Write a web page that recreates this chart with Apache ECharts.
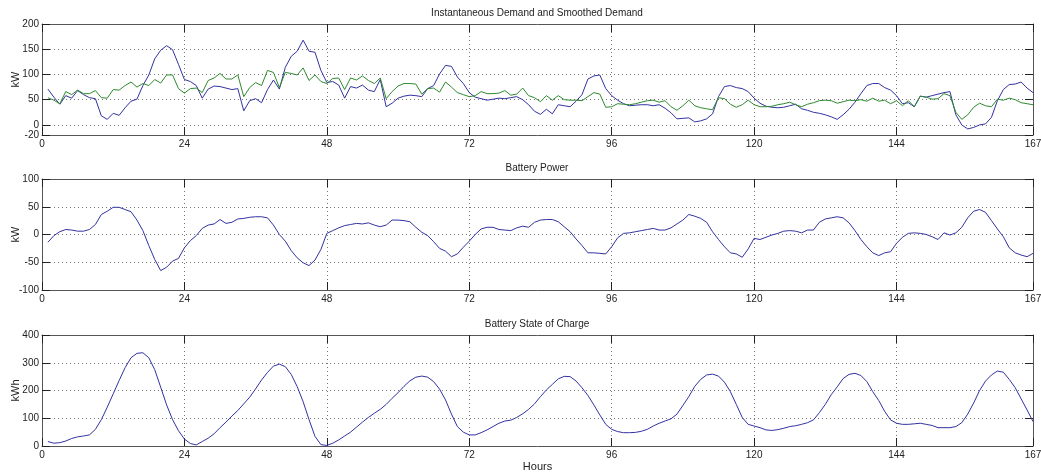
<!DOCTYPE html>
<html>
<head>
<meta charset="utf-8">
<title>Demand, battery power and state of charge</title>
<script src="https://cdn.jsdelivr.net/npm/echarts@6/dist/echarts.min.js"></script>
<style>
  html, body { margin: 0; background: #fff; }
  #main { width: 1041px; height: 474px; }
</style>
</head>
<body>
<div id="main"></div>
<script>
// hours 1..167
var hours = [];
for (var h = 1; h <= 167; h++) hours.push(h);

var hourTicks = [0, 24, 48, 72, 96, 120, 144, 167];
var demandTicks = [-20, 0, 50, 100, 150, 200];
var powerTicks = [-100, -50, 0, 50, 100];
var socTicks = [0, 100, 200, 300, 400];

// instantaneous demand (kW)
var demand = [
  71, 55, 41, 58, 53, 68, 60, 54, 52, 18, 11, 23, 19, 34, 47, 51, 78, 99, 131, 148,
  157, 149, 120, 90, 86, 78, 53, 71, 77, 76, 73, 70, 72, 28, 48, 52, 44, 70, 89, 71,
  114, 136, 146, 168, 146, 144, 108, 84, 86, 79, 53, 76, 73, 79, 69, 66, 90, 36, 43, 53,
  57, 59, 58, 56, 72, 78, 101, 118, 116, 95, 82, 64, 55, 52, 49, 51, 53, 52, 54, 56,
  50, 40, 27, 21, 31, 22, 40, 38, 36, 47, 60, 91, 97, 99, 72, 58, 49, 42, 38, 39,
  40, 40, 38, 40, 33, 24, 12, 13, 14, 6, 8, 12, 22, 56, 76, 78, 74, 72, 66, 53,
  43, 37, 35, 34, 35, 38, 41, 32, 29, 25, 23, 20, 16, 11, 20, 31, 45, 62, 78, 82,
  82, 74, 69, 58, 42, 44, 36, 57, 55, 58, 61, 64, 66, 20, 0, -8, -5, 0, 2, 15,
  48, 70, 80, 81, 85, 73, 64
];

// smoothed demand (kW)
var smoothed = [
  54, 49, 42, 66, 60, 69, 62, 62, 68, 54, 53, 70, 69, 78, 85, 75, 82, 78, 90, 83,
  99, 99, 72, 63, 72, 73, 64, 88, 93, 102, 91, 91, 99, 56, 74, 84, 78, 108, 104, 74,
  104, 102, 99, 113, 88, 99, 86, 82, 92, 93, 70, 93, 89, 97, 88, 82, 93, 52, 66, 77,
  82, 82, 81, 61, 72, 73, 65, 85, 75, 64, 60, 56, 58, 66, 62, 62, 63, 68, 59, 61,
  73, 58, 54, 46, 58, 49, 58, 50, 49, 49, 48, 56, 64, 61, 35, 36, 42, 41, 40, 42,
  45, 48, 49, 45, 48, 36, 29, 38, 49, 38, 34, 32, 30, 54, 52, 41, 35, 40, 49, 40,
  36, 36, 37, 40, 42, 45, 40, 36, 41, 44, 48, 49, 48, 43, 46, 49, 48, 50, 47, 53,
  47, 49, 42, 48, 38, 48, 36, 57, 55, 51, 52, 62, 58, 25, 11, 20, 35, 43, 38, 36,
  51, 49, 53, 50, 44, 42, 40
];

// battery power (kW)
var power = [
  -14, -2, 5, 9, 8, 6, 6, 9, 18, 36, 42, 49, 49, 45, 41, 26, 7, -20, -45, -65,
  -59, -48, -43, -24, -11, -2, 11, 17, 19, 27, 20, 22, 28, 29, 31, 32, 32, 30, 17, 0,
  -12, -29, -42, -51, -56, -46, -27, 2, 7, 12, 16, 18, 20, 19, 21, 17, 14, 17, 26, 26,
  25, 23, 13, 4, -2, -13, -25, -30, -40, -35, -23, -12, 0, 10, 13, 13, 9, 8, 7, 12,
  15, 13, 22, 26, 27, 27, 23, 14, 5, -8, -20, -33, -33, -34, -35, -22, -6, 2, 3, 5,
  7, 9, 11, 8, 8, 12, 19, 26, 36, 33, 29, 22, 5, -9, -22, -33, -35, -41, -26, -7,
  -9, -5, -1, 2, 6, 7, 6, 3, 8, 8, 22, 28, 30, 32, 30, 21, 7, -9, -22, -33,
  -38, -33, -31, -16, -5, 2, 3, 2, 0, -4, -9, 3, -1, 3, 13, 30, 42, 45, 40, 25,
  10, -4, -24, -33, -37, -40, -34
];

// battery state of charge (kWh)
var soc = [
  16, 10, 12, 18, 27, 33, 36, 40, 60, 95, 140, 188, 236, 282, 318, 334, 336, 318, 275, 212,
  148, 95, 55, 25, 9, 4, 16, 28, 44, 66, 86, 108, 128, 152, 176, 206, 238, 265, 288, 295,
  286, 258, 214, 160, 95, 35, 5, 2, 10, 22, 36, 50, 68, 86, 103, 118, 132, 150, 172, 192,
  215, 235, 248, 252, 248, 232, 205, 166, 115, 70, 50, 40, 40, 48, 58, 70, 82, 90, 93, 103,
  116, 132, 152, 178, 202, 222, 242, 251, 250, 234, 210, 182, 148, 112, 78, 60, 52, 48, 48, 49,
  53, 60, 72, 82, 90, 98, 115, 146, 178, 215, 240, 256, 259, 252, 230, 196, 150, 103, 78, 72,
  66, 58, 56, 59, 64, 70, 73, 78, 84, 94, 120, 150, 185, 213, 243, 258, 262, 254, 232, 196,
  164, 125, 94, 82, 78, 78, 80, 82, 78, 74, 66, 66, 66, 70, 84, 115, 155, 200, 234, 256,
  270, 266, 240, 210, 170, 130, 88
];

function pairs(vals) {
  return hours.map(function (x, i) { return [x, vals[i]]; });
}

var frame = '#555';
var labelStyle = { fontFamily: 'Liberation Sans, Arial, sans-serif', fontSize: 10, color: '#222' };
var gridDots = { show: true, lineStyle: { color: '#777', width: 1, type: [1, 3] } };

function bottomX(gi, withName) {
  return {
    type: 'value', gridIndex: gi, position: 'bottom', min: 0, max: 167,
    axisLine: { show: true, onZero: false, lineStyle: { color: frame } },
    axisTick: { show: true, inside: true, length: 8, customValues: hourTicks, lineStyle: { color: '#222' } },
    axisLabel: Object.assign({ customValues: hourTicks, margin: 4 }, labelStyle),
    splitLine: gridDots,
    name: withName ? 'Hours' : '', nameLocation: 'middle', nameGap: 15, nameMoveOverlap: false,
    nameTextStyle: { fontFamily: labelStyle.fontFamily, fontSize: 11, color: '#222', verticalAlign: 'top' }
  };
}
function topX(gi) {
  return {
    type: 'value', gridIndex: gi, position: 'top', min: 0, max: 167,
    axisLine: { show: true, onZero: false, lineStyle: { color: frame } },
    axisTick: { show: true, inside: true, length: 8, customValues: hourTicks, lineStyle: { color: '#222' } },
    axisLabel: { show: false }, splitLine: { show: false }
  };
}
function leftY(gi, lo, hi, ticks, name) {
  return {
    type: 'value', gridIndex: gi, position: 'left', min: lo, max: hi,
    axisLine: { show: true, onZero: false, lineStyle: { color: frame } },
    axisTick: { show: true, inside: true, length: 8, customValues: ticks, lineStyle: { color: '#222' } },
    axisLabel: Object.assign({ customValues: ticks, margin: 3 }, labelStyle),
    splitLine: gridDots,
    name: name, nameLocation: 'middle', nameGap: 21, nameRotate: 90, nameMoveOverlap: false,
    nameTextStyle: { fontFamily: labelStyle.fontFamily, fontSize: 11, color: '#222' }
  };
}
function rightY(gi, lo, hi, ticks) {
  return {
    type: 'value', gridIndex: gi, position: 'right', min: lo, max: hi,
    axisLine: { show: true, onZero: false, lineStyle: { color: frame } },
    axisTick: { show: true, inside: true, length: 8, customValues: ticks, lineStyle: { color: '#222' } },
    axisLabel: { show: false }, splitLine: { show: false }
  };
}

var titleStyle = { fontFamily: 'Liberation Sans, Arial, sans-serif', fontSize: 10, fill: '#222' };
function heading(text, y) {
  return { type: 'text', x: 537, y: y, style: Object.assign({ text: text, textAlign: 'center', textVerticalAlign: 'middle' }, titleStyle) };
}

var blue = '#3232a0';
var green = '#2e8a2e';

var chart = echarts.init(document.getElementById('main'));
chart.setOption({
  animation: false,
  backgroundColor: '#fff',
  grid: [
    { left: 42, right: 8, top: 24, height: 111, outerBoundsMode: 'none' },
    { left: 42, right: 8, top: 179, height: 111, outerBoundsMode: 'none' },
    { left: 42, right: 8, top: 335, height: 111, outerBoundsMode: 'none' }
  ],
  xAxis: [bottomX(0), topX(0), bottomX(1), topX(1), bottomX(2, true), topX(2)],
  yAxis: [
    leftY(0, -20, 200, demandTicks, 'kW'), rightY(0, -20, 200, demandTicks),
    leftY(1, -100, 100, powerTicks, 'kW'), rightY(1, -100, 100, powerTicks),
    leftY(2, 0, 400, socTicks, 'kWh'), rightY(2, 0, 400, socTicks)
  ],
  graphic: [
    heading('Instantaneous Demand and Smoothed Demand', 13),
    heading('Battery Power', 168),
    heading('Battery State of Charge', 324)
  ],
  series: [
    { name: 'Instantaneous Demand', type: 'line', xAxisIndex: 0, yAxisIndex: 0, data: pairs(demand),
      showSymbol: false, lineStyle: { color: blue, width: 1 }, z: 3 },
    { name: 'Smoothed Demand', type: 'line', xAxisIndex: 0, yAxisIndex: 0, data: pairs(smoothed),
      showSymbol: false, lineStyle: { color: green, width: 1 }, z: 4 },
    { name: 'Battery Power', type: 'line', xAxisIndex: 2, yAxisIndex: 2, data: pairs(power),
      showSymbol: false, lineStyle: { color: blue, width: 1 } },
    { name: 'Battery State of Charge', type: 'line', xAxisIndex: 4, yAxisIndex: 4, data: pairs(soc),
      showSymbol: false, lineStyle: { color: blue, width: 1 } }
  ]
});
</script>
</body>
</html>
